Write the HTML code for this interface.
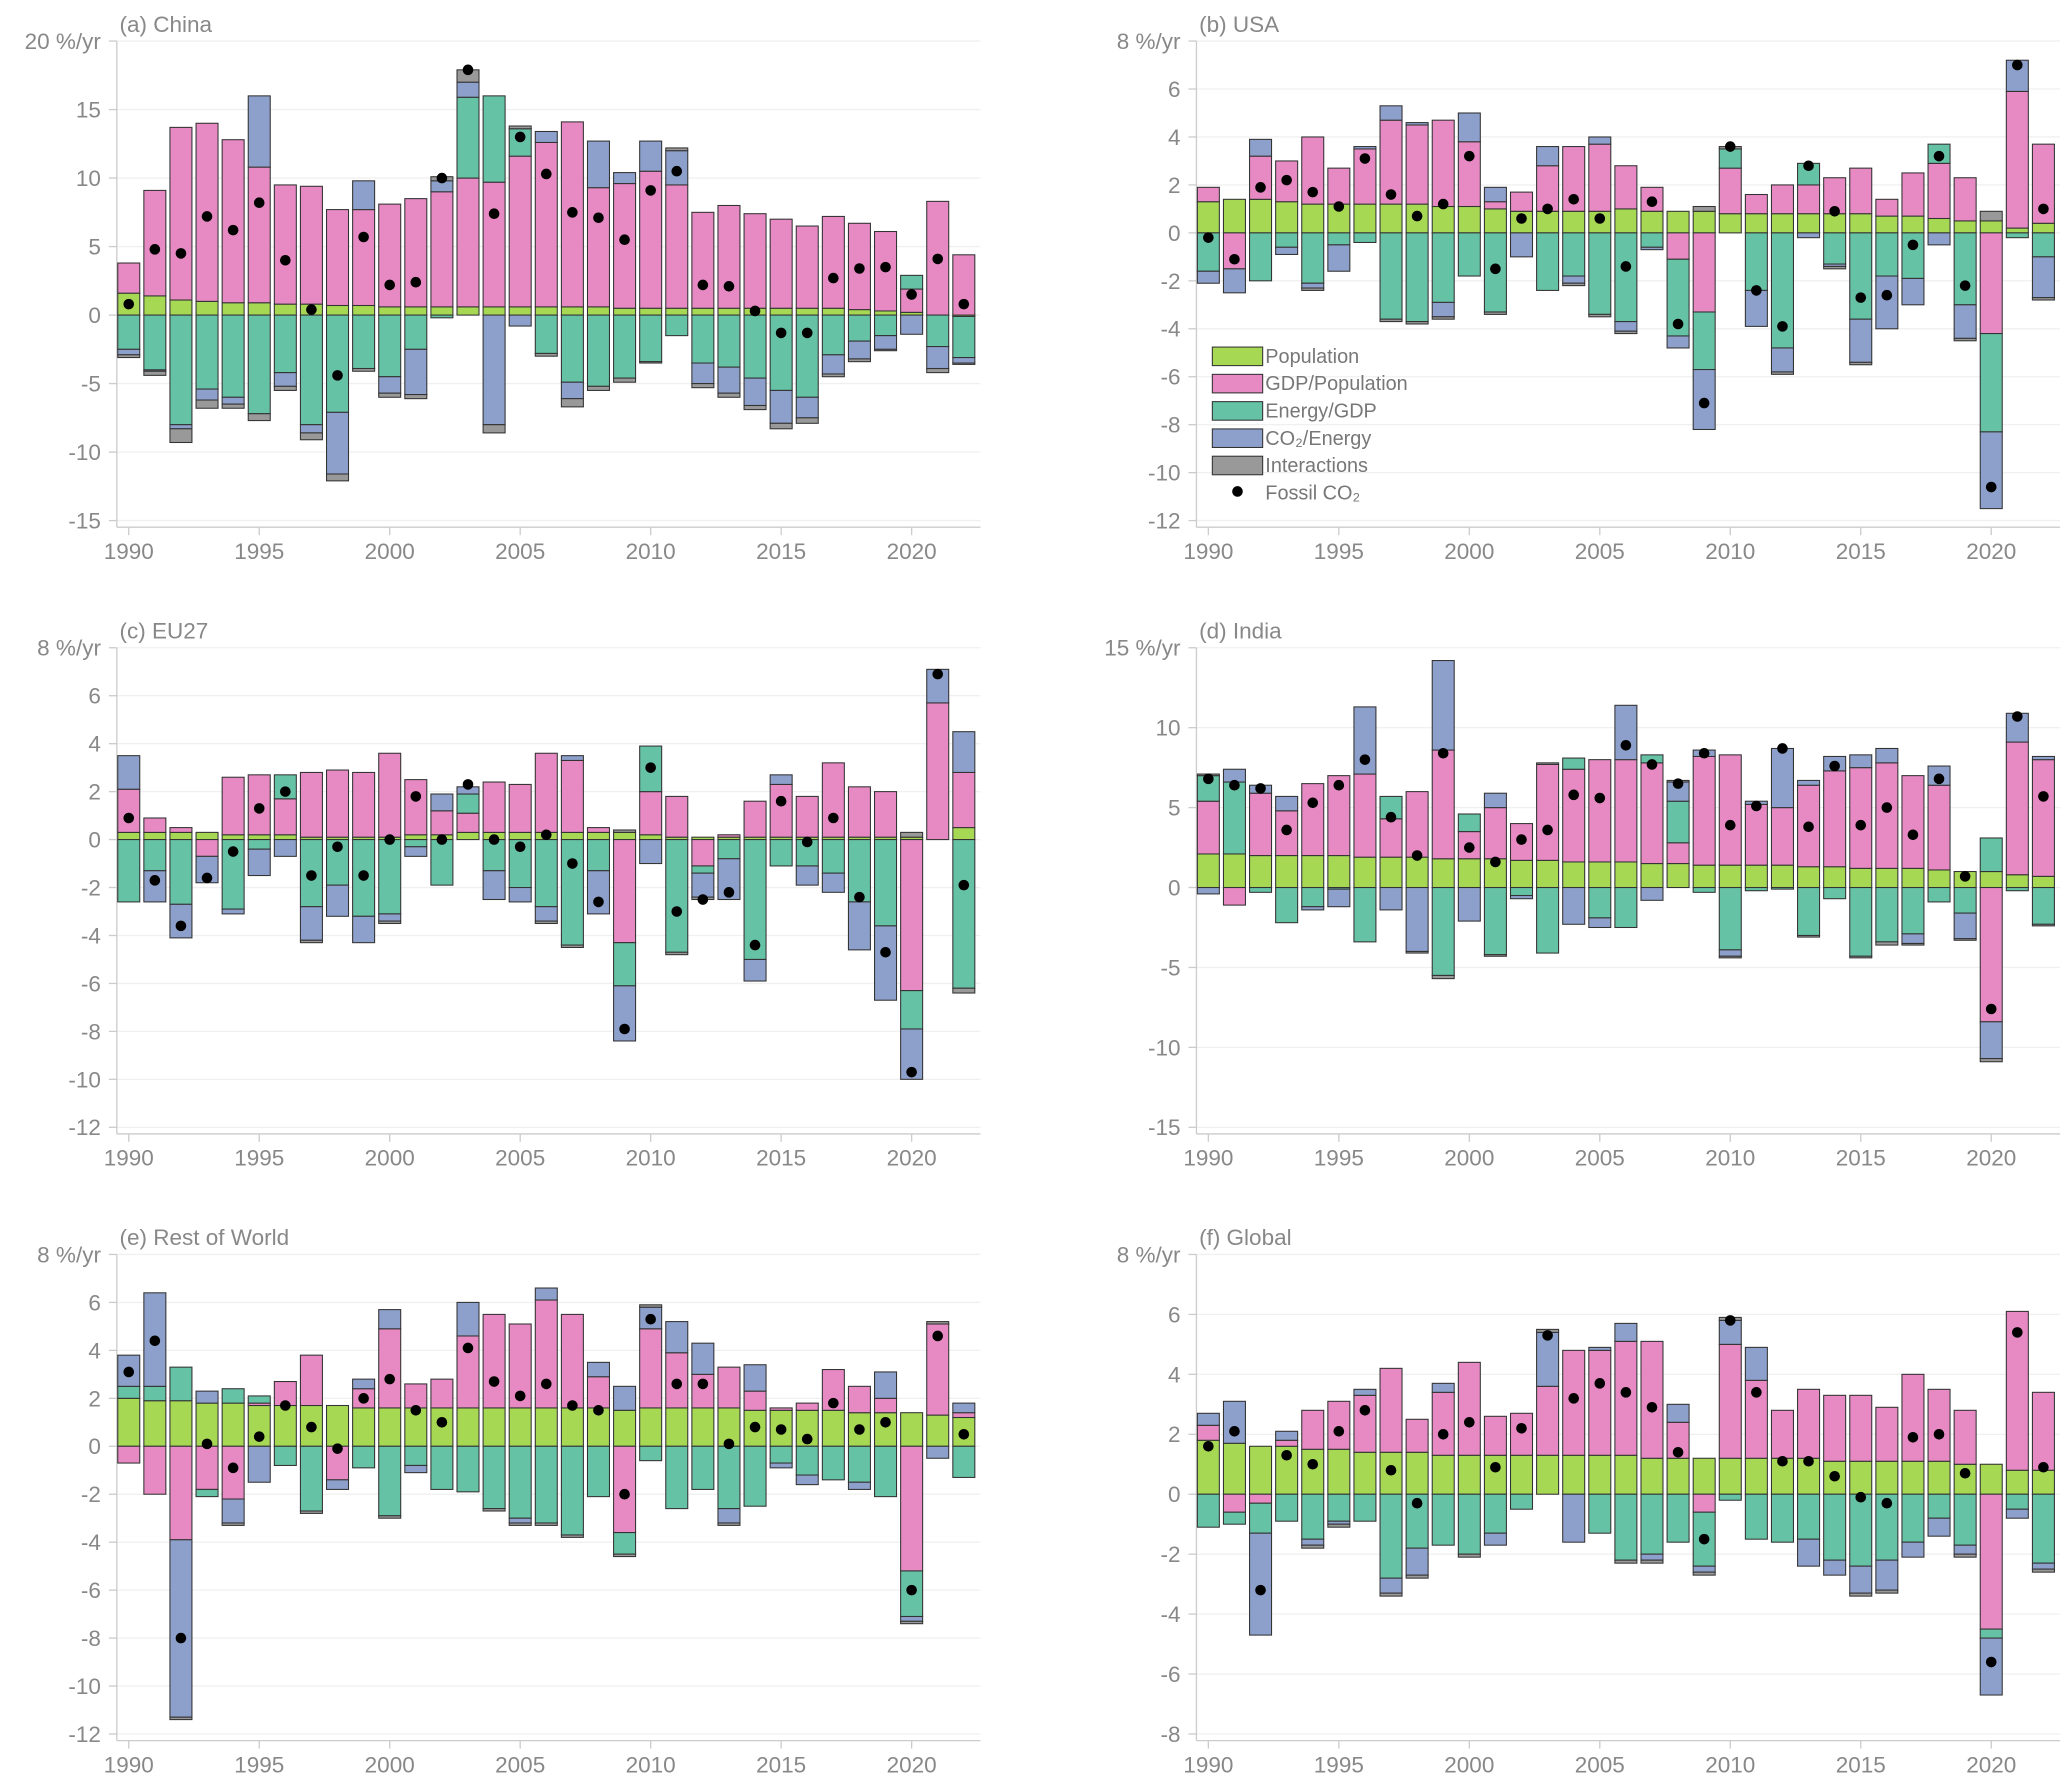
<!DOCTYPE html>
<html><head><meta charset="utf-8"><style>
html,body{margin:0;padding:0;background:#fff;}
svg{display:block;font-family:"Liberation Sans",Arial,sans-serif;}
</style></head><body>
<svg id="chart" width="2067" height="1783" viewBox="0 0 1560 1346" xmlns="http://www.w3.org/2000/svg"></svg>
<script>
const years=[];for(let y=1990;y<=2022;y++)years.push(y);
// China
const chinaPop=[1.6,1.4,1.1,1.0,0.9,0.9,0.8,0.8,0.7,0.7,0.6,0.6,0.6,0.6,0.6,0.6,0.6,0.6,0.6,0.5,0.5,0.5,0.5,0.5,0.5,0.5,0.5,0.5,0.4,0.3,0.2,0.0,-0.1];
const chinaGdp=[2.2,7.7,12.6,13.0,11.9,9.9,8.7,8.6,7.0,7.0,7.5,7.9,8.4,9.4,9.1,11.0,12.0,13.5,8.7,9.1,10.0,9.0,7.0,7.5,6.9,6.5,6.0,6.7,6.3,5.8,1.7,8.3,4.4];
const chinaEnergy=[-2.5,-4.0,-8.0,-5.4,-6.0,-7.2,-4.2,-8.0,-7.1,-3.9,-4.5,-2.5,-0.2,5.9,6.3,2.0,-2.8,-4.9,-5.2,-4.6,-3.4,-1.5,-3.5,-3.8,-4.6,-5.5,-6.0,-2.9,-1.9,-1.5,1.0,-2.3,-3.0];
const chinaCo2=[-0.4,-0.1,-0.3,-0.8,-0.5,5.2,-1.0,-0.6,-4.5,2.1,-1.2,-3.3,0.8,1.1,-8.0,-0.8,0.8,-1.2,3.4,0.8,2.2,2.5,-1.5,-1.9,-2.0,-2.4,-1.5,-1.4,-1.3,-1.0,-1.4,-1.6,-0.4];
const chinaInter=[-0.2,-0.3,-1.0,-0.6,-0.3,-0.5,-0.3,-0.5,-0.5,-0.2,-0.3,-0.3,0.3,0.9,-0.6,0.2,-0.2,-0.6,-0.3,-0.3,-0.1,0.2,-0.3,-0.3,-0.3,-0.4,-0.4,-0.2,-0.2,-0.1,0,-0.3,-0.1];
const chinaFossil=[0.8,4.8,4.5,7.2,6.2,8.2,4.0,0.4,-4.4,5.7,2.2,2.4,10.0,17.9,7.4,13.0,10.3,7.5,7.1,5.5,9.1,10.5,2.2,2.1,0.3,-1.3,-1.3,2.7,3.4,3.5,1.5,4.1,0.8];
// USA
const usaPop=[1.3,1.4,1.4,1.3,1.2,1.2,1.2,1.2,1.2,1.1,1.1,1.0,0.9,0.9,0.9,0.9,1.0,0.9,0.9,0.9,0.8,0.8,0.8,0.8,0.8,0.8,0.7,0.7,0.6,0.5,0.5,0.2,0.4];
const usaGdp=[0.6,-1.5,1.8,1.7,2.8,1.5,2.3,3.5,3.3,3.6,2.7,0.3,0.8,1.9,2.7,2.8,1.8,1.0,-1.1,-3.3,1.9,0.8,1.2,1.2,1.5,1.9,0.7,1.8,2.3,1.8,-4.2,5.7,3.3];
const usaEnergy=[-1.6,0,-2.0,-0.6,-2.1,-0.5,-0.4,-3.6,-3.7,-2.9,-1.8,-3.3,0,-2.4,-1.8,-3.4,-3.7,-0.6,-3.2,-2.4,0.8,-2.4,-4.8,0.9,-1.3,-3.6,-1.8,-1.9,0.8,-3.0,-4.1,-0.2,-1.0];
const usaCo2=[-0.5,-1.0,0.7,-0.3,-0.2,-1.1,0.1,0.6,0.1,-0.6,1.2,0.6,-1.0,0.8,-0.3,0.3,-0.4,-0.1,-0.5,-2.5,0,-1.5,-1.0,-0.2,-0.1,-1.8,-2.2,-1.1,-0.5,-1.4,-3.2,1.3,-1.7];
const usaInter=[0,0,0,0,-0.1,0,0,-0.1,-0.1,-0.1,0,-0.1,0,0,-0.1,-0.1,-0.1,0,0,0.2,0.1,0,-0.1,0,-0.1,-0.1,0,0,0,-0.1,0.4,0,-0.1];
const usaFossil=[-0.2,-1.1,1.9,2.2,1.7,1.1,3.1,1.6,0.7,1.2,3.2,-1.5,0.6,1.0,1.4,0.6,-1.4,1.3,-3.8,-7.1,3.6,-2.4,-3.9,2.8,0.9,-2.7,-2.6,-0.5,3.2,-2.2,-10.6,7.0,1.0];
// EU27
const euPop=[0.3,0.3,0.3,0.3,0.2,0.2,0.2,0.1,0.1,0.1,0.1,0.2,0.2,0.3,0.3,0.3,0.3,0.3,0.3,0.3,0.2,0.1,0.1,0.1,0.1,0.1,0.1,0.1,0.1,0.1,0.1,0,0.5];
const euGdp=[1.8,0.6,0.2,-0.7,2.4,2.5,1.5,2.7,2.8,2.7,3.5,2.3,1.0,0.8,2.1,2.0,3.3,3.0,0.2,-4.3,1.8,1.7,-1.1,0.1,1.5,2.2,1.7,3.1,2.1,1.9,-6.3,5.7,2.3];
const euEnergy=[-2.6,-1.3,-2.7,0,-2.9,-0.4,1.0,-2.8,-1.9,-3.2,-3.1,-0.3,-1.9,0.8,-1.3,-2.0,-2.8,-4.4,-1.3,-1.8,1.9,-4.7,-0.3,-0.8,-5.0,-1.1,-1.1,-1.4,-2.6,-3.6,-1.6,0,-6.2];
const euCo2=[1.4,-1.3,-1.4,-1.1,-0.2,-1.1,-0.7,-1.4,-1.3,-1.1,-0.3,-0.4,0.7,0.3,-1.2,-0.6,-0.6,0.2,-1.8,-2.3,-1.0,0,-1.0,-1.7,-0.9,0.4,-0.8,-0.8,-2.0,-3.1,-2.1,1.4,1.7];
const euInter=[0,0,0,0,0,0,0,-0.1,0,0,-0.1,0,0,0,0,0,-0.1,-0.1,0,0.1,0,-0.1,-0.1,0,0,0,0,0,0,0,0.2,0,-0.2];
const euFossil=[0.9,-1.7,-3.6,-1.6,-0.5,1.3,2.0,-1.5,-0.3,-1.5,0.0,1.8,0.0,2.3,0.0,-0.3,0.2,-1.0,-2.6,-7.9,3.0,-3.0,-2.5,-2.2,-4.4,1.6,-0.1,0.9,-2.4,-4.7,-9.7,6.9,-1.9];
// India
const indPop=[2.1,2.1,2.0,2.0,2.0,2.0,1.9,1.9,1.9,1.8,1.8,1.8,1.7,1.7,1.6,1.6,1.6,1.5,1.5,1.4,1.4,1.4,1.4,1.3,1.3,1.2,1.2,1.2,1.1,1.0,1.0,0.8,0.7];
const indGdp=[3.3,-1.1,3.9,2.8,4.5,5.0,5.2,2.4,4.1,6.8,1.7,3.2,2.3,6.0,5.8,6.4,6.4,6.3,1.3,6.8,6.9,3.8,3.6,5.1,6.0,6.3,6.6,5.8,5.3,0,-8.4,8.3,7.3];
const indEnergy=[1.6,4.5,-0.3,-2.2,-1.2,-0.1,-3.4,1.4,0,-5.5,1.1,-4.2,-0.5,-4.1,0.7,-1.9,-2.5,0.5,2.6,-0.3,-3.9,-0.2,-0.1,-3.0,-0.7,-4.3,-3.4,-2.9,-0.9,-1.6,2.1,-0.2,-2.3];
const indCo2=[-0.4,0.8,0.5,0.9,-0.2,-1.1,4.2,-1.4,-4.0,5.6,-2.1,0.9,-0.2,0,-2.3,-0.6,3.4,-0.8,1.2,0.4,-0.4,0.2,3.7,0.3,0.9,0.8,0.9,-0.6,1.2,-1.6,-2.3,1.8,0.2];
const indInter=[0.1,0,0,0,0,0,0,0,-0.1,-0.2,0,-0.1,0,0.1,0,0,0,0,0.1,0,-0.1,0,0,-0.1,0,-0.1,-0.2,-0.1,0,-0.1,-0.2,0,-0.1];
const indFossil=[6.8,6.4,6.2,3.6,5.3,6.4,8.0,4.4,2.0,8.4,2.5,1.6,3.0,3.6,5.8,5.6,8.9,7.7,6.5,8.4,3.9,5.1,8.7,3.8,7.6,3.9,5.0,3.3,6.8,0.7,-7.6,10.7,5.7];
// Rest of World
const rowPop=[2.0,1.9,1.9,1.8,1.8,1.7,1.7,1.7,1.7,1.6,1.6,1.6,1.6,1.6,1.6,1.6,1.6,1.6,1.6,1.5,1.6,1.6,1.6,1.6,1.5,1.5,1.5,1.5,1.4,1.4,1.4,1.3,1.2];
const rowGdp=[-0.7,-2.0,-3.9,-1.8,-2.2,0.1,1.0,2.1,-1.4,0.8,3.3,1.0,1.2,3.0,3.9,3.5,4.5,3.9,1.3,-3.6,3.3,2.3,1.4,1.7,0.8,0.1,0.3,1.7,1.1,0.6,-5.2,3.8,0.2];
const rowEnergy=[0.5,0.6,1.4,-0.3,0.6,0.3,-0.8,-2.7,0,-0.9,-2.9,-0.8,-1.8,-1.9,-2.6,-3.0,-3.2,-3.7,-2.1,-0.9,-0.6,-2.6,-1.8,-2.6,-2.5,-0.7,-1.2,-1.4,-1.5,-2.1,-1.9,0,-1.3];
const rowCo2=[1.3,3.9,-7.4,0.5,-1.0,-1.5,0,0,-0.4,0.4,0.8,-0.3,0,1.4,0,-0.2,0.5,0,0.6,1.0,0.9,1.3,1.3,-0.6,1.1,-0.2,-0.4,0,-0.3,1.1,-0.2,-0.5,0.4];
const rowInter=[0,0,-0.1,0,-0.1,0,0,-0.1,0,0,-0.1,0,0,0,-0.1,-0.1,-0.1,-0.1,0,-0.1,0.1,0,0,-0.1,0,0,0,0,0,0,-0.1,0.1,0];
const rowFossil=[3.1,4.4,-8.0,0.1,-0.9,0.4,1.7,0.8,-0.1,2.0,2.8,1.5,1.0,4.1,2.7,2.1,2.6,1.7,1.5,-2.0,5.3,2.6,2.6,0.1,0.8,0.7,0.3,1.8,0.7,1.0,-6.0,4.6,0.5];
// Global
const gloPop=[1.8,1.7,1.6,1.6,1.5,1.5,1.4,1.4,1.4,1.3,1.3,1.3,1.3,1.3,1.3,1.3,1.3,1.2,1.2,1.2,1.2,1.2,1.2,1.2,1.1,1.1,1.1,1.1,1.1,1.0,1.0,0.8,0.8];
const gloGdp=[0.5,-0.6,-0.3,0.2,1.3,1.6,1.9,2.8,1.1,2.1,3.1,1.3,1.4,2.3,3.5,3.5,3.8,3.9,1.2,-0.6,3.8,2.6,1.6,2.3,2.2,2.2,1.8,2.9,2.4,1.8,-4.5,5.3,2.6];
const gloEnergy=[-1.1,-0.4,-1.0,-0.9,-1.5,-0.9,-0.9,-2.8,-1.8,-1.7,-2.0,-1.3,-0.5,0,0,-1.3,-2.2,-2.0,-1.6,-1.8,-0.2,-1.5,-1.6,-1.5,-2.2,-2.4,-2.2,-1.6,-0.8,-1.7,-0.3,-0.5,-2.3];
const gloCo2=[0.4,1.4,-3.4,0.3,-0.2,-0.1,0.2,-0.5,-0.9,0.3,0,-0.4,0,1.8,-1.6,0.1,0.6,-0.2,0.6,-0.2,0.8,1.1,0,-0.9,-0.5,-0.9,-1.0,-0.5,-0.6,-0.3,-1.9,-0.3,-0.2];
const gloInter=[0,0,0,0,-0.1,-0.1,0,-0.1,-0.1,0,-0.1,0,0,0.1,0,0,-0.1,-0.1,0,-0.1,0.1,0,0,0,0,-0.1,-0.1,0,0,-0.1,0,0,-0.1];
const gloFossil=[1.6,2.1,-3.2,1.3,1.0,2.1,2.8,0.8,-0.3,2.0,2.4,0.9,2.2,5.3,3.2,3.7,3.4,2.9,1.4,-1.5,5.8,3.4,1.1,1.1,0.6,-0.1,-0.3,1.9,2.0,0.7,-5.6,5.4,0.9];

const chinaTicks=[20,15,10,5,0,-5,-10,-15];
const usaTicks=[8,6,4,2,0,-2,-4,-6,-8,-10,-12];
const euTicks=[8,6,4,2,0,-2,-4,-6,-8,-10,-12];
const indTicks=[15,10,5,0,-5,-10,-15];
const rowTicks=[8,6,4,2,0,-2,-4,-6,-8,-10,-12];
const gloTicks=[8,6,4,2,0,-2,-4,-6,-8];
const xTickYears=[1990,1995,2000,2005,2010,2015,2020];

const colors=['#a6d854','#e78ac3','#66c2a5','#8da0cb','#999999'];
const svg=document.getElementById('chart');
const NS='http://www.w3.org/2000/svg';
function mk(tag,attrs,parent){const e=document.createElementNS(NS,tag);for(const k in attrs)e.setAttribute(k,attrs[k]);(parent||svg).appendChild(e);return e;}

const panels=[
 {name:'china',title:'(a) China',left:88,top:31,bottom:393,ticks:chinaTicks,series:[chinaPop,chinaGdp,chinaEnergy,chinaCo2,chinaInter],fossil:chinaFossil},
 {name:'usa',title:'(b) USA',left:903,top:31,bottom:393,ticks:usaTicks,series:[usaPop,usaGdp,usaEnergy,usaCo2,usaInter],fossil:usaFossil},
 {name:'eu27',title:'(c) EU27',left:88,top:489,bottom:851,ticks:euTicks,series:[euPop,euGdp,euEnergy,euCo2,euInter],fossil:euFossil},
 {name:'india',title:'(d) India',left:903,top:489,bottom:851,ticks:indTicks,series:[indPop,indGdp,indEnergy,indCo2,indInter],fossil:indFossil},
 {name:'rest-of-world',title:'(e) Rest of World',left:88,top:947,bottom:1309,ticks:rowTicks,series:[rowPop,rowGdp,rowEnergy,rowCo2,rowInter],fossil:rowFossil},
 {name:'global',title:'(f) Global',left:903,top:947,bottom:1309,ticks:gloTicks,series:[gloPop,gloGdp,gloEnergy,gloCo2,gloInter],fossil:gloFossil}
];

panels.forEach(p=>{
 const g=mk('g',{});
 
 
 const right=p.left+652;
 const ymax=p.ticks[0],ymin=p.ticks[p.ticks.length-1];
 const yS=v=>p.top+(ymax-v)/(ymax-ymin)*(p.bottom-p.top);
 const xS=yr=>p.left+9+(yr-1990)*19.7;
 // grid + y ticks
 p.ticks.forEach((t,i)=>{
  const y=yS(t);
  const gl=mk('line',{x1:p.left,x2:right,y1:y,y2:y,stroke:'#f0f0f0','stroke-width':1},g);
  
  
  mk('line',{x1:p.left-6,x2:p.left,y1:y,y2:y,stroke:'#ccc','stroke-width':1},g);
  const tx=mk('text',{x:p.left-12,y:y+6,'text-anchor':'end','font-size':17,fill:'#888'},g);
  tx.textContent=i===0?t+' %/yr':String(t);
  
  
 });
 const ya=mk('line',{x1:p.left,x2:p.left,y1:p.top,y2:p.bottom+5,stroke:'#ccc','stroke-width':1},g);
 
 
 const xa=mk('line',{x1:p.left,x2:right,y1:p.bottom+5,y2:p.bottom+5,stroke:'#ccc','stroke-width':1},g);
 
 
 xTickYears.forEach(yr=>{
  const x=xS(yr);
  mk('line',{x1:x,x2:x,y1:p.bottom+5,y2:p.bottom+11,stroke:'#ccc','stroke-width':1},g);
  const tx=mk('text',{x:x,y:p.bottom+29,'text-anchor':'middle','font-size':17,fill:'#888'},g);
  tx.textContent=String(yr);
  
  
 });
 const tt=mk('text',{x:p.left+2,y:p.top-7,'font-size':17,fill:'#888'},g);
 tt.textContent=p.title;
 
 
 // bars
 years.forEach((yr,i)=>{
  let pos=0,neg=0;const cx=xS(yr);
  p.series.forEach((s,k)=>{
   const v=s[i];if(!v)return;
   let y0,y1;
   if(v>0){y0=pos;y1=pos+v;pos=y1;}else{y0=neg;y1=neg+v;neg=y1;}
   const top=yS(Math.max(y0,y1)),bot=yS(Math.min(y0,y1));
   const r=mk('rect',{x:cx-8.3,y:top,width:16.6,height:Math.max(bot-top,0.5),fill:colors[k],stroke:'#333','stroke-width':0.8},g);
   
   
  });
  const d=mk('circle',{cx:cx,cy:yS(p.fossil[i]),r:4,fill:'#000'},g);
  
  
 });
});

// legend
const lg=mk('g',{});


const legendLabels=['Population','GDP/Population','Energy/GDP','CO\u2082/Energy','Interactions'];
legendLabels.forEach((lab,k)=>{
 const y=262+k*20.6;
 const r=mk('rect',{x:915,y:y,width:38,height:14,fill:colors[k],stroke:'#333','stroke-width':0.8},lg);
 
 
 const t=mk('text',{x:955,y:y+12,'font-size':15,fill:'#777'},lg);
 t.textContent=lab;
 
 
});
const ld=mk('circle',{cx:934,cy:371,r:4,fill:'#000'},lg);


const lt=mk('text',{x:955,y:377,'font-size':15,fill:'#777'},lg);
lt.textContent='Fossil CO\u2082';


</script>
</body></html>
